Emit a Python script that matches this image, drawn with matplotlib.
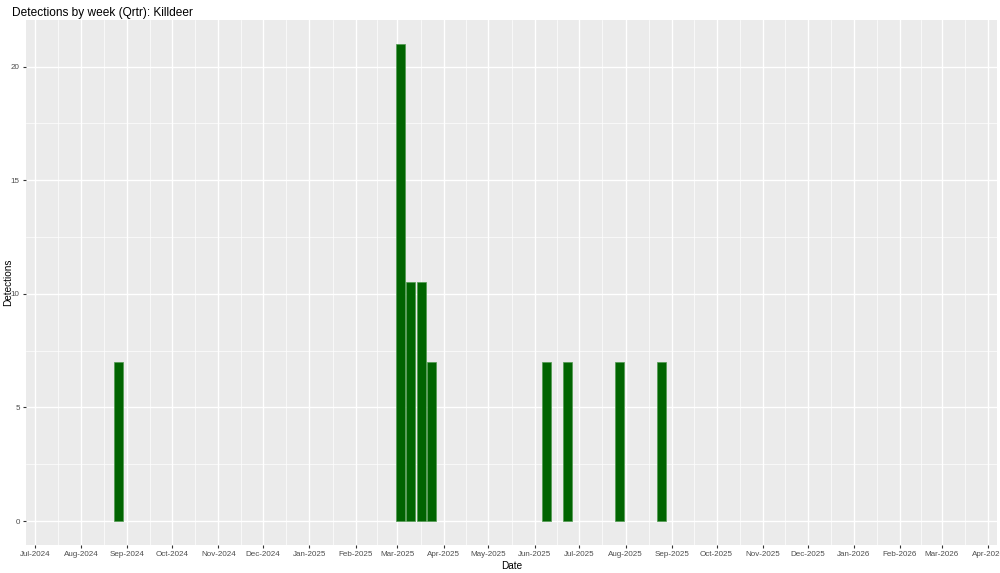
import numpy as np
import pandas as pd
import matplotlib
matplotlib.use("Agg")
from matplotlib import pyplot as plt

plt.rcParams['font.family'] = ['Liberation Sans', 'DejaVu Sans']

# weekly detections (week start dates, Mondays)
weeks = ["2024-08-26", "2025-03-03", "2025-03-10", "2025-03-17", "2025-03-24",
         "2025-06-09", "2025-06-23", "2025-07-28", "2025-08-25"]
detections = [7, 21, 10.5, 10.5, 7, 7, 7, 7, 7]

tick_dates = pd.date_range("2024-07-01", "2026-04-01", freq="MS")
minor_dates = tick_dates[:-1] + (tick_dates[1:] - tick_dates[:-1]) / 2

x = pd.to_datetime(weeks)

fig = plt.figure(figsize=(10, 5.73), dpi=100)
ax = fig.add_axes([0.026, 0.049, 0.971, 0.916])
ax.set_facecolor("#EBEBEB")

ax.bar(x, detections, width=6.1, color="#006400", edgecolor="#4f9a4f",
       linewidth=0.5, zorder=3)

ax.set_xlim(pd.Timestamp("2024-06-25"), pd.Timestamp("2026-04-07"))
ax.set_ylim(-1.05, 22.05)

ax.set_xticks(tick_dates)
ax.set_xticklabels([d.strftime("%b-%Y") for d in tick_dates])
ax.set_xticks(minor_dates, minor=True)
ax.set_yticks([0, 5, 10, 15, 20])
ax.set_yticks([2.5, 7.5, 12.5, 17.5], minor=True)

ax.grid(which="major", color="white", linewidth=1.0, zorder=0)
ax.grid(which="minor", color="white", linewidth=0.5, zorder=0)
ax.set_axisbelow(True)
for s in ax.spines.values():
    s.set_visible(False)

ax.tick_params(which="major", length=2.5, width=0.8, color="#333333",
               labelsize=5.8, labelcolor="#4D4D4D", pad=2)
ax.tick_params(which="minor", length=0)

ax.set_xlabel("Date", fontsize=7.2, labelpad=2)
ax.set_ylabel("Detections", fontsize=7.2)
ax.yaxis.set_label_coords(-0.0135, 0.5)
fig.text(0.012, 0.988, "Detections by week (Qrtr): Killdeer", fontsize=8.6,
         ha="left", va="top")

fig.savefig("out.png", dpi=100)
